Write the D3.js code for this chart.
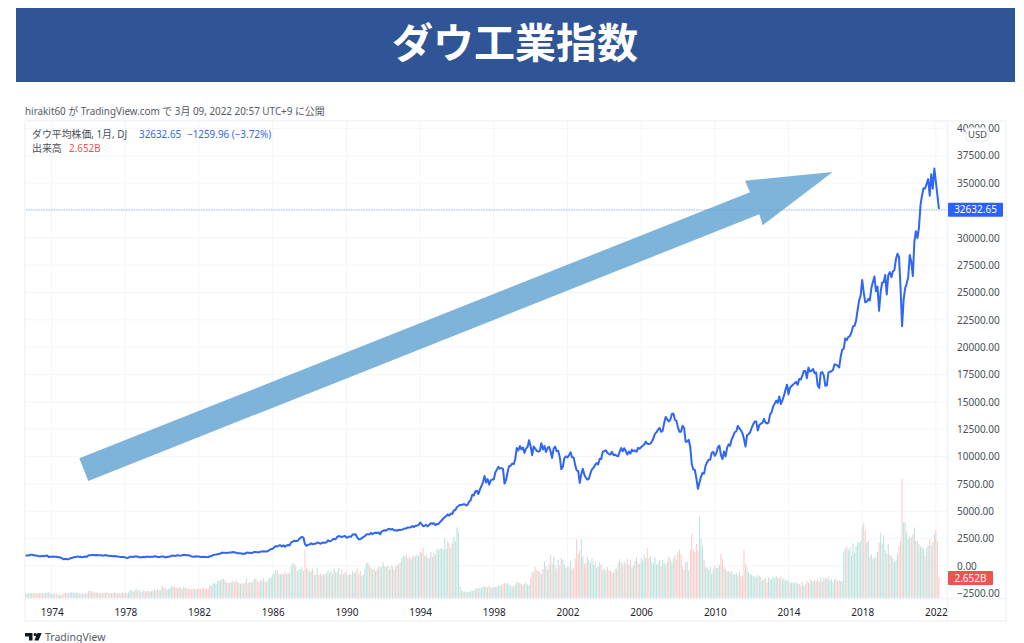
<!DOCTYPE html>
<html lang="ja"><head><meta charset="utf-8">
<script src="https://cdn.jsdelivr.net/npm/d3@7"></script>
<style>
html,body{margin:0;padding:0;background:#fff;overflow:hidden}
svg{display:block}
text{font-family:"Noto Sans","Noto Sans CJK JP",sans-serif}
</style></head><body>
<svg id="c" width="1024" height="643"></svg>
<script>
const firstMonth = [1972, 7]; // August 1972 (month index from 0)
const tickYears = [1974,1978,1982,1986,1990,1994,1998,2002,2006,2010,2014,2018,2022];
const priceTicks = [40000,37500,35000,32500,30000,27500,25000,22500,20000,17500,15000,12500,10000,7500,5000,2500,0,-2500];
const hiddenPriceLabels = [32500];
const lastPrice = 32632.65;
const closeValues = [
963,953,956,1018,1020,
999,955,951,921,901,891,926,888,947,956,822,851,
855,860,846,837,802,802,757,678,607,665,618,616,
703,739,768,821,832,879,832,835,794,836,860,852,
975,972,1000,997,975,1003,985,974,990,965,947,1005,
954,936,919,927,899,916,888,862,847,818,830,831,
770,742,757,837,841,819,862,877,866,793,799,805,
839,808,862,855,822,842,846,888,879,816,822,839,
876,863,786,817,851,868,935,933,932,925,993,964,
947,975,1004,998,992,977,953,882,850,853,889,875,
872,824,823,848,820,812,809,901,896,992,1039,1047,
1076,1113,1130,1226,1200,1222,1199,1216,1233,1225,1276,1259,
1221,1155,1165,1171,1105,1132,1115,1224,1207,1207,1189,1212,
1287,1284,1267,1258,1315,1336,1348,1334,1329,1375,1473,1547,
1571,1709,1819,1784,1877,1893,1775,1898,1768,1878,1914,1896,
2158,2224,2305,2286,2292,2419,2572,2663,2596,1994,1834,1939,
1958,2071,1988,2032,2031,2142,2129,2032,2113,2149,2114,2169,
2342,2258,2294,2419,2480,2440,2661,2737,2693,2645,2706,2753,
2590,2627,2707,2657,2877,2881,2905,2614,2453,2442,2560,2634,
2736,2882,2914,2888,3028,2907,3025,3044,3017,3069,2895,3169,
3223,3267,3236,3359,3397,3319,3394,3257,3272,3226,3305,3301,
3310,3371,3435,3428,3527,3516,3540,3651,3555,3681,3684,3754,
3978,3832,3636,3682,3758,3625,3765,3913,3843,3908,3739,3834,
3844,4011,4158,4321,4465,4556,4709,4611,4789,4756,5075,5117,
5395,5486,5587,5569,5643,5655,5529,5616,5882,6029,6522,6448,
6813,6877,6584,7009,7331,7673,8223,7622,7945,7442,7823,7908,
7907,8546,8800,9063,8900,8952,8883,7539,7843,8592,9117,9181,
9359,9307,9786,10789,10560,10971,10655,10829,10337,10730,10878,11497,
10941,10128,10922,10734,10522,10448,10522,11215,10651,10971,10415,10787,
10887,10495,9879,10735,10912,10502,10523,9950,8848,9075,9852,10021,
9920,10106,10404,9946,9925,9243,8737,8663,7592,8397,8896,8342,
8054,7891,7992,8480,8850,8985,9234,9416,9275,9801,9782,10454,
10488,10584,10358,10226,10188,10435,10140,10174,10080,10027,10428,10783,
10490,10766,10504,10193,10467,10275,10641,10482,10569,10440,10806,10718,
10865,10993,11109,11367,11168,11150,11186,11381,11679,12080,12222,12463,
12622,12269,12354,13063,13628,13409,13212,13358,13896,13930,13372,13265,
12650,12266,12263,12820,12638,11350,11378,11544,10851,9325,8829,8776,
8001,7063,7609,8168,8500,8447,9172,9496,9712,9713,10345,10428,
10067,10325,10857,11009,10137,9774,10466,10015,10788,11118,11006,11578,
11892,12226,12320,12811,12570,12414,12143,11614,10913,11955,12046,12218,
12633,12952,13212,13214,12393,12880,13009,13091,13437,13096,13026,13104,
13861,14054,14579,14840,15116,14910,15500,14810,15130,15546,16086,16577,
15699,16322,16458,16580,16717,16827,16563,17098,17043,17391,17828,17823,
17165,18133,17776,17841,18011,17620,17690,16528,16285,17664,17720,17425,
16466,16517,17685,17774,17787,17930,18432,18401,18308,18142,19124,19763,
19864,20812,20663,20941,21009,21350,21891,21948,22405,23377,24272,24719,
26149,25029,24103,24163,24416,24271,25415,25965,26458,25116,25538,23327,
24999,25916,25929,26593,24815,26600,26864,26403,26917,27046,28051,28538,
28256,25409,21917,24346,25383,25813,26428,28430,27782,26502,29639,30606,
29983,30932,32982,33875,34529,34503,34935,35361,33844,35820,34484,36338,
35132,33893,32632.65
];
const volumeValues = [
.5,.6,.5,.6,.6,
.6,.5,.6,.5,.6,.6,.6,.5,.6,.7,.7,.6,
.5,.5,.5,.5,.4,.4,.4,.4,.5,.6,.6,.6,
.7,.7,.7,.6,.7,.6,.6,.5,.5,.5,.5,.6,
.9,.9,.9,.7,.7,.7,.6,.6,.6,.6,.6,.7,
.7,.6,.6,.6,.6,.7,.6,.6,.6,.6,.7,.6,
.7,.6,.7,1.0,1.0,.8,.9,1.2,.9,1.0,.7,.8,
1.0,.8,.9,.9,.8,.9,.9,1.1,1.0,1.1,1.0,1.0,
1.5,1.3,1.3,1.1,1.1,1.2,1.5,1.4,1.4,1.3,1.3,1.3,
1.3,1.1,1.4,1.3,1.2,1.2,1.1,1.1,1.2,1.1,1.1,1.2,
1.2,1.1,1.3,1.2,1.2,1.2,1.2,1.6,1.5,1.9,1.8,1.8,
2.1,2.2,2.2,2.4,2.4,2.2,1.9,1.9,1.9,2.0,2.2,2.0,
2.3,2.0,1.9,1.8,1.9,1.8,2.0,2.5,1.9,2.0,1.9,2.1,
2.4,2.5,2.1,2.0,2.3,2.2,2.5,2.1,2.0,2.3,2.5,2.6,
3.0,3.1,3.5,3.4,3.0,3.0,3.1,3.0,3.3,3.0,3.2,3.1,
4.1,4.4,4.3,4.1,3.4,3.6,3.6,3.9,3.4,6.1,3.8,3.6,
3.3,3.4,3.7,2.9,3.0,3.8,2.9,3.1,2.8,3.0,3.0,3.1,
3.5,3.1,3.4,3.0,3.7,3.3,3.3,3.8,2.9,3.6,3.0,3.2,
3.3,2.9,3.0,2.9,3.4,3.1,3.3,3.7,3.0,3.4,2.8,2.9,
3.7,4.4,4.5,4.1,3.8,3.6,3.7,3.4,3.7,4.0,3.9,4.0,
4.5,4.0,3.9,4.1,3.6,4.1,3.9,3.6,4.0,4.2,4.3,4.5,
5.0,5.3,5.3,5.5,5.0,5.2,4.9,5.2,5.4,5.2,5.5,5.3,
5.8,5.7,6.3,5.3,5.4,5.1,5.0,5.8,5.2,5.7,5.4,6.2,
6.0,6.2,6.3,6.1,7.5,6.2,7.2,6.9,6.3,6.9,7.7,7.1,
8.9,8.4,1.5,.9,.8,.8,.8,.7,.8,.9,.9,.9,
1.1,1.3,1.2,1.3,1.2,1.4,1.5,1.4,1.3,1.6,1.3,1.3,
1.4,1.4,1.4,1.6,1.5,1.6,1.8,1.9,1.8,1.9,1.6,1.6,
1.4,1.5,1.7,2.1,1.9,1.9,1.8,1.7,1.8,2.0,1.7,1.6,
2.5,3.3,3.3,3.9,3.5,3.4,3.2,3.0,3.7,4.6,4.0,3.6,
4.2,5.4,4.3,5.2,4.1,3.7,4.8,4.1,5.0,4.8,4.2,3.8,
4.0,3.9,4.7,3.7,3.8,5.0,7.4,5.6,5.9,7.4,5.3,4.3,
4.4,5.2,4.8,4.4,5.0,4.2,4.6,3.8,4.0,4.5,4.2,3.5,
3.7,3.4,3.9,3.5,3.4,3.3,3.2,3.6,3.7,4.5,4.9,4.5,
4.2,4.6,4.3,5.0,4.2,4.8,3.9,4.1,4.7,5.2,4.5,4.3,
5.0,4.7,5.5,5.0,6.3,5.0,5.3,4.6,4.3,5.1,4.2,4.4,
4.8,4.0,4.8,4.4,4.2,4.6,5.2,5.0,4.5,5.0,5.4,4.8,
5.8,6.1,5.5,4.0,3.6,4.5,4.6,3.4,6.1,8.2,6.1,5.8,
6.8,6.0,10.3,7.5,6.5,4.8,3.9,3.8,3.6,3.9,3.1,3.7,
4.1,3.8,3.8,4.2,5.6,4.9,3.9,3.7,3.3,3.4,3.2,3.4,
3.0,3.0,3.2,2.9,3.3,2.7,2.8,6.1,4.3,3.9,3.2,3.0,
2.9,2.8,2.7,2.7,2.9,2.8,2.6,2.2,2.4,2.5,2.0,2.6,
2.3,2.4,2.7,2.5,2.8,2.6,2.5,2.7,2.3,2.5,2.2,2.3,
2.1,2.0,1.9,1.9,1.9,2.0,1.8,1.8,1.6,2.0,1.5,1.7,
2.2,1.9,2.3,2.2,2.1,2.3,2.1,2.4,2.1,2.6,2.1,2.5,
2.5,2.4,2.6,2.2,2.4,2.0,2.3,2.4,2.1,2.2,2.1,2.2,
5.9,6.2,6.5,6.0,6.4,5.3,6.9,5.7,6.5,7.0,7.0,7.2,
9.0,9.4,8.5,7.0,7.3,5.3,5.5,5.0,5.0,5.2,5.8,7.0,
8.2,6.9,7.9,6.0,5.6,6.8,5.4,5.3,5.0,4.6,4.8,5.5,
6.5,7.2,15.0,9.5,9.5,8.4,7.4,7.8,7.6,8.0,8.9,7.2,
7.2,6.8,6.5,6.4,6.2,5.3,6.4,6.6,7.4,6.6,7.0,8.0,
8.6,7.2,2.652
];
const priceLabels = {
  byline: "hirakit60 が TradingView.com で 3月 09, 2022 20:57 UTC+9 に公開",
  symbol: "ダウ平均株価, 1月, DJ",
  last: "32632.65",
  change: "−1259.96 (−3.72%)",
  volName: "出来高",
  vol: "2.652B",
  title: "ダウ工業指数"
};

const svg = d3.select("#c");
const n = closeValues.length;
const monthIndex = y => (y - firstMonth[0]) * 12 - firstMonth[1];
const x = d3.scaleLinear().domain([0, n - 1]).range([25.6, 25.6 + (n - 1) * 1.535]);
const y = d3.scaleLinear().domain([-2500, 40000]).range([593.35, 128.4]);
const yVol = d3.scaleLinear().domain([0, 15]).range([598, 479]);
const frameColor = "#f0f3fa", gridColor = "#f4f6fb", axisText = "#4a4f5a";

// title banner
svg.append("rect").attr("x",16).attr("y",8).attr("width",999).attr("height",74).attr("fill","#2f5597");
svg.append("text").attr("x",515).attr("y",58).attr("text-anchor","middle").attr("fill","#fff")
  .attr("font-size",41).attr("font-weight",700).style("font-family",'"Noto Sans CJK JP",sans-serif').text(priceLabels.title);
svg.append("text").attr("x",25).attr("y",115).attr("fill","#555b66").attr("font-size",9.9)
  .text(priceLabels.byline);

// frame
svg.append("rect").attr("x",25).attr("y",121).attr("width",981).attr("height",500)
  .attr("fill","#fff").attr("stroke",frameColor).attr("stroke-width",1.5);

// grids
svg.append("g").selectAll("line").data(priceTicks).join("line")
  .attr("x1",26).attr("x2",947).attr("y1",d=>y(d)).attr("y2",d=>y(d)).attr("stroke",gridColor);
svg.append("g").selectAll("line").data(tickYears).join("line")
  .attr("x1",d=>x(monthIndex(d))).attr("x2",d=>x(monthIndex(d))).attr("y1",122).attr("y2",598).attr("stroke",gridColor);

// volume bars
svg.append("g").selectAll("rect").data(volumeValues).join("rect")
  .attr("x",(d,i)=>x(i)-0.55).attr("width",1.1)
  .attr("y",d=>yVol(d)).attr("height",d=>yVol(0)-yVol(d))
  .attr("fill",(d,i)=> (i===0 || closeValues[i]>=closeValues[i-1]) ? "#bfe4df" : "#fbcdcb");

// last price line
svg.append("line").attr("x1",26).attr("x2",947).attr("y1",y(lastPrice)+0.7).attr("y2",y(lastPrice)+0.7)
  .attr("stroke","#bcd0ff").attr("stroke-width",1.5).attr("stroke-dasharray","1.5 1");

// close line
const line = d3.line().x((d,i)=>x(i)).y(d=>y(d));
svg.append("path").datum(closeValues).attr("d",line).attr("fill","none")
  .attr("stroke","#2f66f5").attr("stroke-width",2).attr("stroke-linejoin","round");

// annotation arrow
const arrowPoints = [[79.3,458.3],[750,192.3],[745,180.7],[832.7,172],[762.7,225.3],[759.3,214.3],[88.3,481]];
svg.append("polygon").attr("points",arrowPoints.join(" ")).attr("fill","#5a9fd0").attr("fill-opacity",0.78);

// axes lines
svg.append("line").attr("x1",947.5).attr("x2",947.5).attr("y1",121).attr("y2",621).attr("stroke",frameColor).attr("stroke-width",1.5);
svg.append("line").attr("x1",25).attr("x2",1006).attr("y1",598.5).attr("y2",598.5).attr("stroke",frameColor).attr("stroke-width",1.5);

// axes
const yAxis = d3.axisRight(y).tickValues(priceTicks.filter(d=>!hiddenPriceLabels.includes(d))).tickSize(0).tickPadding(8).tickFormat(d=>d3.format(".2f")(d));
const gy = svg.append("g").attr("transform","translate(949,0)").call(yAxis);
gy.select(".domain").remove();
gy.selectAll("text").attr("font-size",10).attr("fill",axisText).style("font-family",'"Noto Sans",sans-serif');
const xAxis = d3.axisBottom(x).tickValues(tickYears.map(monthIndex)).tickSize(0).tickPadding(8)
  .tickFormat(i=>String(firstMonth[0]+Math.floor((i+firstMonth[1])/12)));
const gx = svg.append("g").attr("transform","translate(0,601)").call(xAxis);
gx.select(".domain").remove();
gx.selectAll("text").attr("font-size",10).attr("fill","#1f2430").style("font-family",'"Noto Sans",sans-serif');

// USD badge
svg.append("rect").attr("x",966).attr("y",128).attr("width",23).attr("height",13).attr("rx",3)
  .attr("fill","#fff").attr("stroke","#e8eaf0");
svg.append("text").attr("x",977.5).attr("y",138).attr("text-anchor","middle").attr("font-size",9.5).attr("fill",axisText).text("USD");

// last price & volume tags
function tag(yc, w, h, fill, label){
  svg.append("rect").attr("x",948).attr("y",yc-h/2).attr("width",w).attr("height",h).attr("rx",1).attr("fill",fill);
  svg.append("text").attr("x",948+w/2).attr("y",yc+3.6).attr("text-anchor","middle").attr("fill","#fff").attr("font-size",10).text(label);
}
tag(y(lastPrice)+0.7, 55, 14, "#2962ff", priceLabels.last);
tag(578, 45, 14, "#ef5350", priceLabels.vol);

// legend
const legendItems = [
  [priceLabels.symbol, 32, 137.5, "#4a4f5a"],
  [priceLabels.last, 139, 137.5, "#2f66f5"],
  [priceLabels.change, 187, 137.5, "#2f66f5"],
  [priceLabels.volName, 32, 151.5, "#4a4f5a"],
  [priceLabels.vol, 69, 151.5, "#ef5350"]
];
svg.append("g").selectAll("text").data(legendItems).join("text")
  .attr("x",d=>d[1]).attr("y",d=>d[2]).attr("fill",d=>d[3]).attr("font-size",9.9).text(d=>d[0]);

// TradingView mark
svg.append("path").attr("d","M25 633h7.5v7.5h-3.5v-4h-4z M33.5 634.6a1.7 1.7 0 1 0 3.4 0a1.7 1.7 0 1 0 -3.4 0z M37.5 633h4.2l-3.2 7.5h-4.2z").attr("fill","#131722");
svg.append("text").attr("x",45).attr("y",641).attr("font-size",10.5).attr("fill","#555b66").text("TradingView");
</script>
</body></html>
